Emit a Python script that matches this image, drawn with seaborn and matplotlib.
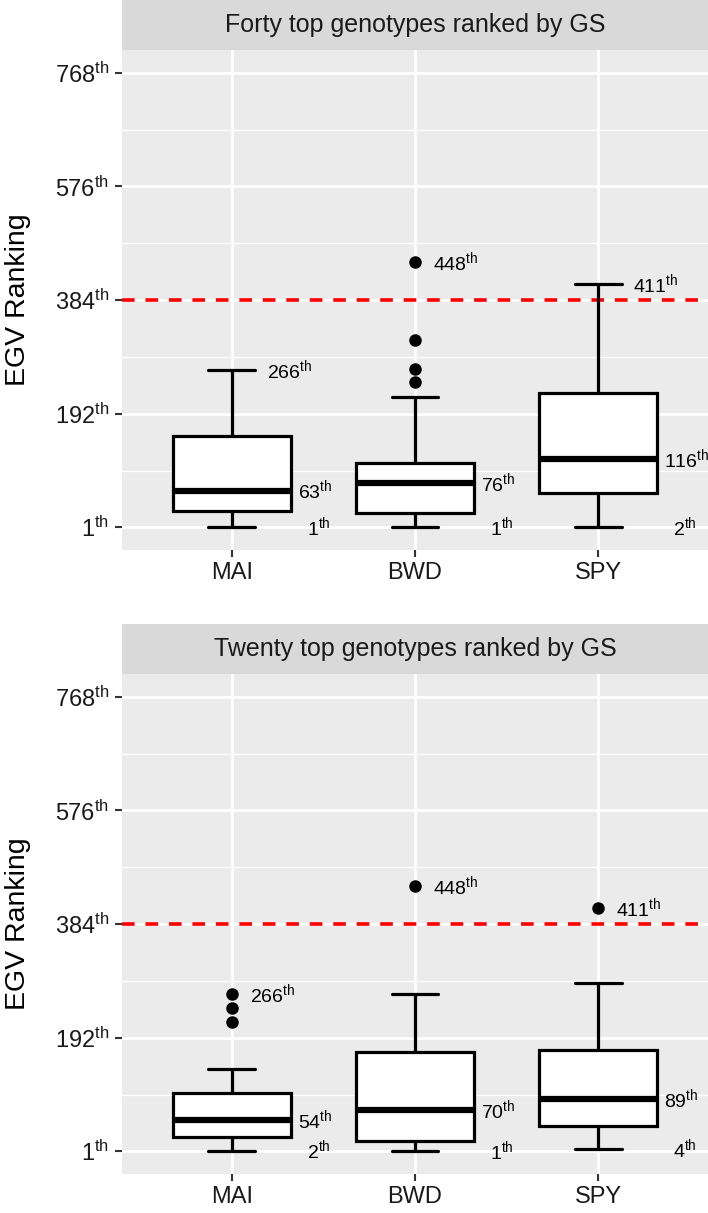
import numpy as np
import pandas as pd
import matplotlib.pyplot as plt
import seaborn as sns
from matplotlib.patches import Rectangle

# Stilius
sns.set_theme(style="darkgrid", rc={"axes.facecolor": "#EBEBEB", "grid.color": "white"})
plt.rcParams["font.family"] = ["Liberation Sans", "DejaVu Sans"]
plt.rcParams["mathtext.fontset"] = "custom"
plt.rcParams["mathtext.rm"] = "Liberation Sans"
plt.rcParams["mathtext.it"] = "Liberation Sans:italic"
plt.rcParams["mathtext.bf"] = "Liberation Sans:bold"

traits = ["MAI", "BWD", "SPY"]
panel_titles = ["Forty top genotypes ranked by GS", "Twenty top genotypes ranked by GS"]
y_ticks = [1, 192, 384, 576, 768]
cutoff = 384

# EGV rankings of the forty top genotypes (top panel)
forty_mai = [1, 4, 9, 12, 15, 18, 21, 23, 25, 27, 30, 33, 36, 40, 44, 48, 52, 56, 59, 62,
             64, 70, 77, 85, 94, 103, 112, 124, 137, 149, 172, 181, 190, 199, 208, 218, 229, 241, 253, 266]
forty_bwd = [1, 3, 6, 9, 12, 14, 16, 19, 21, 23, 25, 28, 32, 37, 42, 48, 55, 62, 68, 74,
             78, 82, 86, 89, 92, 95, 98, 101, 104, 108, 114, 128, 146, 170, 195, 221, 246, 268, 317, 448]
forty_spy = [2, 8, 15, 22, 29, 35, 41, 46, 51, 55, 59, 64, 70, 76, 82, 88, 95, 102, 108, 113,
             119, 126, 134, 143, 152, 162, 173, 186, 199, 214, 270, 290, 305, 320, 335, 350, 365, 380, 395, 411]

# EGV rankings of the twenty top genotypes (bottom panel)
twenty_mai = [2, 9, 15, 20, 23, 26, 31, 38, 45, 52, 56, 63, 72, 84, 96, 108, 140, 219, 243, 266]
twenty_bwd = [1, 5, 10, 14, 16, 19, 30, 42, 55, 67, 73, 88, 110, 135, 160, 192, 215, 238, 266, 448]
twenty_spy = [4, 12, 22, 31, 38, 45, 55, 64, 74, 85, 93, 104, 122, 141, 162, 203, 232, 258, 285, 411]

panels = [
    [forty_mai, forty_bwd, forty_spy],
    [twenty_mai, twenty_bwd, twenty_spy],
]


def th(v):
    return f"${int(round(v))}^{{\\mathrm{{th}}}}$"


fig = plt.figure(figsize=(7.08, 12.13), dpi=100)
axes = [fig.add_axes([0.1723, 0.5466, 0.8277, 0.4122]),
        fig.add_axes([0.1723, 0.0322, 0.8277, 0.4122])]

for ax, groups, title in zip(axes, panels, panel_titles):
    df = pd.DataFrame({
        "trait": np.repeat(traits, [len(g) for g in groups]),
        "rank": np.concatenate(groups),
    })

    ax.axhline(cutoff, color="red", lw=2.6, dashes=(3.5, 3.0), zorder=1.5)

    sns.boxplot(data=df, x="trait", y="rank", order=traits, ax=ax,
                width=0.645, color="white", linecolor="black", linewidth=2.3,
                fliersize=8, whis=1.5,
                medianprops=dict(linewidth=4.5),
                flierprops=dict(marker="o", markerfacecolor="black",
                                markeredgecolor="black"))

    # uzdaryti ūsų galai siauresni, kaip ggplot errorbar
    for cont in ax.containers:
        for cap in getattr(cont, "caps", []):
            xd = np.asarray(cap.get_xdata(), dtype=float)
            c = xd.mean()
            cap.set_xdata([c - 0.128, c + 0.128])

    # anotacijos: max, mediana, min
    for i, t in enumerate(traits):
        vals = np.array(df.loc[df["trait"] == t, "rank"], dtype=float)
        q1, q3 = np.percentile(vals, [25, 75])
        hi, med, lo = vals.max(), np.median(vals), vals.min()
        outlier = hi > q3 + 1.5 * (q3 - q1)
        kw = dict(fontsize=14, color="black", ha="left", va="center")
        ax.text(i + (0.1 if outlier else 0.19), hi, th(hi), **kw)
        ax.text(i + 0.36, med, th(med), **kw)
        ax.text(i + 0.41, lo, th(lo), **kw)

    ax.set_xlim(-0.6, 2.6)
    ax.set_ylim(-37.35, 806.35)
    ax.set_yticks(y_ticks)
    ax.set_yticklabels([th(v) for v in y_ticks])
    ax.set_yticks([96.5, 288, 480, 672], minor=True)
    ax.grid(which="major", color="white", lw=2.0)
    ax.grid(which="minor", color="white", lw=1.0)
    ax.set_axisbelow(True)
    for s in ax.spines.values():
        s.set_visible(False)
    ax.tick_params(axis="both", which="major", length=5, width=1.5, color="#333333",
                   labelsize=17, labelcolor="#1A1A1A", pad=4, bottom=True, left=True)
    ax.tick_params(axis="y", which="minor", length=0)
    ax.set_xlabel("")
    ax.set_ylabel("EGV Ranking", fontsize=20.5, color="black")
    ax.yaxis.set_label_coords(-0.155, 0.5)

    # juostelė su pavadinimu
    ax.add_patch(Rectangle((0, 1), 1, 0.1, transform=ax.transAxes,
                           facecolor="#D9D9D9", edgecolor="none", clip_on=False))
    ax.text(0.5, 1.05, title, transform=ax.transAxes, ha="center", va="center",
            fontsize=18, color="#1A1A1A")

fig.savefig("out.png", dpi=100)
